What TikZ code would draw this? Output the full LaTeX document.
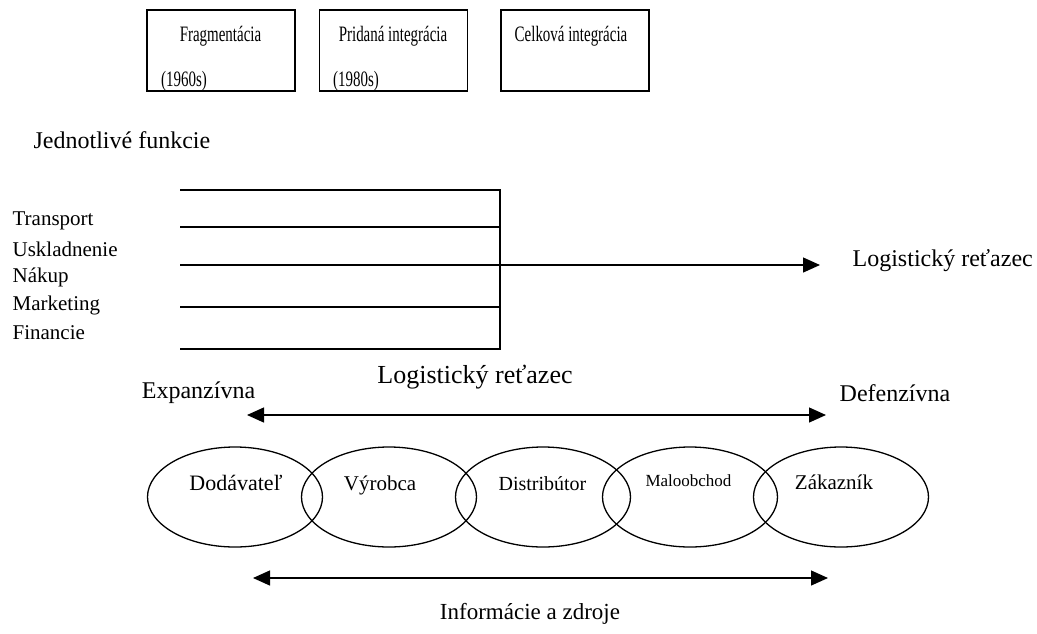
\documentclass[tikz,border=0pt]{standalone}
\usepackage{graphicx}
\usepackage{fontspec}
\setmainfont{Liberation Serif}
\usetikzlibrary{shapes.geometric,arrows.meta}
\newcommand{\narrowtxt}[1]{\scalebox{0.68}[1]{#1}}
\begin{document}
\begin{tikzpicture}[x=1pt,y=-1pt,
  line width=1.3pt,
  fs/.style={inner sep=0pt,font=\fontsize{#1}{#1}\selectfont},
  bs/.style={inner sep=0pt,anchor=base,font=\fontsize{#1}{#1}\selectfont},
  boxtxt/.style={inner sep=0pt,anchor=base,font=\fontsize{22}{22}\selectfont},
  era/.style={draw,rectangle,minimum width=148pt,minimum height=81pt,inner sep=0pt},
  chain/.style={draw,ellipse,minimum width=175pt,minimum height=100pt,inner sep=0pt},
  tip/.style={-{Triangle[length=17pt,width=15pt]}},
  tips/.style={{Triangle[length=17pt,width=15pt]}-{Triangle[length=17pt,width=15pt]}}
]
\useasboundingbox (0,0) rectangle (1037,633);
% top boxes
\node[era] (b1) at (221,50.5) {};
\node[era] (b2) at (393.5,50.5) {};
\node[era] (b3) at (575,50.5) {};
\node[boxtxt] (t1) at (220.5,41) {\narrowtxt{Fragmentácia}};
\node[boxtxt] (t1y) at (184,86) {\narrowtxt{(1960s)}};
\node[boxtxt] (t2) at (393,41) {\narrowtxt{Pridaná integrácia}};
\node[boxtxt] (t2y) at (356,86) {\narrowtxt{(1980s)}};
\node[boxtxt] (t3) at (571,41) {\narrowtxt{Celková integrácia}};
% functions
\node[fs=24,anchor=west] (jf) at (33,140) {Jednotlivé funkcie};
\node[fs=21,anchor=west] (f1) at (12,221) {Transport};
\node[fs=21,anchor=west] (f2) at (12,249) {Uskladnenie};
\node[fs=21,anchor=west] (f3) at (12,277) {Nákup};
\node[fs=21,anchor=west] (f4) at (12,305) {Marketing};
\node[fs=21,anchor=west] (f5) at (12,333) {Financie};
\coordinate (l0a) at (180,190); \coordinate (l0b) at (500,190);
\coordinate (l1a) at (180,227); \coordinate (l1b) at (500,227);
\coordinate (l2a) at (180,265); \coordinate (l2b) at (500,265);
\coordinate (l3a) at (180,307); \coordinate (l3b) at (500,307);
\coordinate (l4a) at (180,349); \coordinate (l4b) at (500,349);
\draw (l0a) -- (l0b) -- (l4b) -- (l4a);
\draw (l1a) -- (l1b);
\draw (l2a) -- (l2b);
\draw (l3a) -- (l3b);
\node[fs=24,anchor=west] (lr1) at (852,261) {Logistický reťazec};
\coordinate (as) at (480,265);
\coordinate (ae) at (820,265);
\draw[tip] (as) -- (ae);
% chain
\node[fs=26] (lr2) at (475,377) {Logistický reťazec};
\node[fs=24] (ex) at (198.5,393) {Expanzívna};
\node[fs=24] (de) at (895,393) {Defenzívna};
\coordinate (a1) at (247,415); \coordinate (a2) at (826,415);
\draw[tips] (a1) -- (a2);
\node[chain] (e1) at (235,497) {};
\node[chain] (e2) at (389,497) {};
\node[chain] (e3) at (543,497) {};
\node[chain] (e4) at (690,497) {};
\node[chain] (e5) at (841,497) {};
\node[bs=22] (e1t) at (236,490) {Dodávateľ};
\node[bs=21] (e2t) at (380,490) {Výrobca};
\node[bs=20] (e3t) at (542.5,490) {Distribútor};
\node[bs=17] (e4t) at (688.5,486) {Maloobchod};
\node[bs=21] (e5t) at (834,489) {Zákazník};
\coordinate (b1a) at (253,578); \coordinate (b1b) at (828,578);
\draw[tips] (b1a) -- (b1b);
\node[fs=23] (iz) at (530,614) {Informácie a zdroje};
\end{tikzpicture}
\end{document}
